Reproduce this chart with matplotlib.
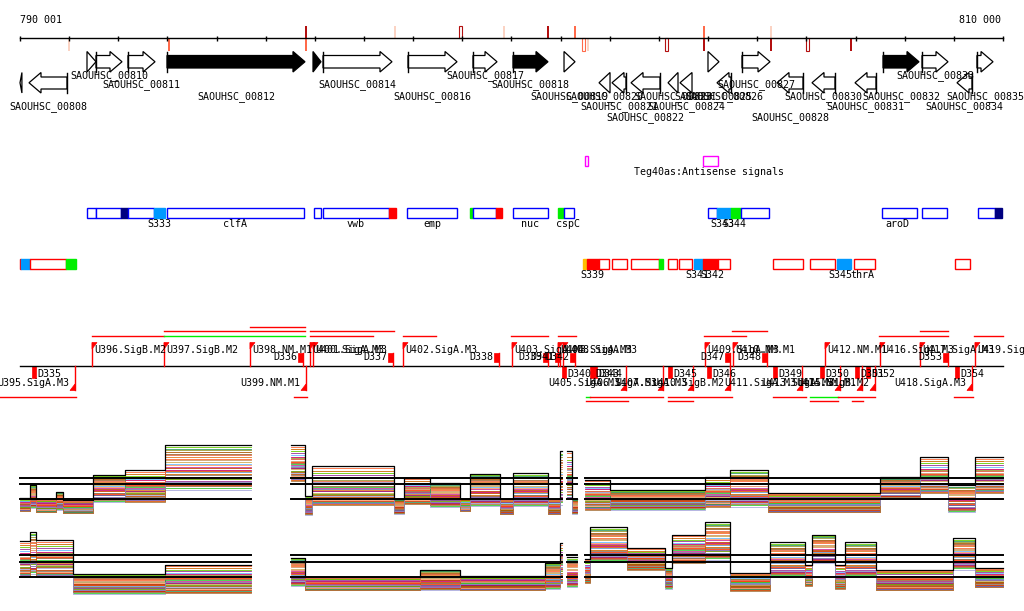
import matplotlib
matplotlib.use('Agg')
import matplotlib.pyplot as plt
from matplotlib.patches import Rectangle, Polygon

# ---------------- data ----------------
BP0, BP1 = 790001, 810000
tick_pos = [790001] + list(range(791000, 810001, 1000))

# signal marks on the coordinate axis: position, side, colour, hollow
mark_pos = [790998, 793032, 795820, 795820, 797630, 798953, 799848, 800743, 801293,
            801456, 801557, 803144, 803917, 803917, 805280, 805280, 806013, 806908]
mark_side = ['d', 'd', 'u', 'd', 'u', 'u', 'u', 'u', 'u',
             'd', 'd', 'd', 'u', 'd', 'u', 'd', 'd', 'd']
mark_col = ['pale', 'salmon', 'dark', 'salmon', 'pale', 'dark', 'pale', 'dark', 'salmon',
            'salmon', 'pale', 'dark', 'salmon', 'dark', 'pale', 'dark', 'dark', 'dark']
mark_hollow = [0, 0, 0, 0, 0, 1, 0, 0, 0, 1, 0, 1, 0, 0, 0, 0, 1, 0]

# genes
gene_start = [791364, 791547, 792198, 792992, 795962, 796166, 797895, 799217, 800031, 801069,
              803998, 804690, 807559, 808352, 809470,
              790001, 790184, 801781, 802045, 802432, 803185, 803429, 804181, 805402, 806114,
              806989, 809064]
gene_end = [791547, 792076, 792748, 795799, 796125, 797569, 798892, 799706, 800743, 801293,
            804222, 805260, 808291, 808881, 809797,
            790040, 790957, 802005, 802330, 803022, 803388, 803673, 804466, 805931, 806582,
            807416, 809369]
gene_strand = [1] * 15 + [-1] * 12
gene_name = ['', 'SAOUHSC_00810', 'SAOUHSC_00811', 'SAOUHSC_00812', '', 'SAOUHSC_00814',
             'SAOUHSC_00816', 'SAOUHSC_00817', 'SAOUHSC_00818', 'SAOUHSC_00819',
             'SAOUHSC_00825', 'SAOUHSC_00827', 'SAOUHSC_00832', 'SAOUHSC_00833', 'SAOUHSC_00835',
             '', 'SAOUHSC_00808', 'SAOUHSC_00820', 'SAOUHSC_00821', 'SAOUHSC_00822',
             'SAOUHSC_00823', 'SAOUHSC_00824', 'SAOUHSC_00826', 'SAOUHSC_00828',
             'SAOUHSC_00830', 'SAOUHSC_00831', 'SAOUHSC_00834']
gene_black = [0, 0, 0, 1, 1, 0, 0, 0, 1, 0, 0, 0, 1, 0, 0,
              0, 0, 0, 0, 0, 0, 0, 0, 0, 0, 0, 0]
gene_row = [0, 0, 1, 2, 0, 1, 2, 0, 1, 2, 2, 1, 2, 0, 2,
            0, 3, 2, 3, 4, 2, 3, 2, 4, 2, 3, 3]

# antisense track
teg_start = [801496, 803896]
teg_end = [801557, 804202]
teg_label = 'Teg40as:Antisense signals'

# blue feature track
blue_start = [791364, 791547, 792056, 792198, 792727, 792992, 795982, 796166, 797508, 797875,
              799156, 799217, 799685, 800031, 800947, 801069, 803998, 804181, 804466, 804670,
              807538, 808352, 809491, 809837]
blue_end = [791547, 792056, 792198, 792727, 792951, 795779, 796125, 797508, 797650, 798892,
            799217, 799685, 799807, 800743, 801069, 801272, 804181, 804466, 804670, 805240,
            808250, 808860, 809837, 809979]
blue_kind = ['o', 'o', 'n', 'o', 's', 'o', 'o', 'o', 'r', 'o', 'g', 'o', 'r', 'o', 'g', 'o',
             'o', 's', 'g', 'o', 'o', 'o', 'o', 'n']
blue_lab = ['S333', 'clfA', 'vwb', 'emp', 'nuc', 'cspC', 'S343', 'S344', 'aroD']
blue_lab_pos = [792839, 794375, 796817, 798383, 800377, 801150, 804283, 804527, 807844]

# red feature track
red_start = [790001, 790021, 790204, 790937, 801455, 801537, 801781, 802045, 802432, 803001,
             803185, 803409, 803714, 803897, 804202, 805321, 806074, 806623, 806969, 809024]
red_end = [790021, 790204, 790937, 791140, 801537, 801781, 801984, 802350, 803001, 803083,
           803368, 803673, 803897, 804202, 804446, 805931, 806582, 806908, 807396, 809329]
red_kind = ['r', 's', 'o', 'g', 'y', 'r', 'o', 'o', 'o', 'g', 'o', 'o', 's', 'r', 'o', 'o',
            'o', 's', 'o', 'o']
red_lab = ['S339', 'S341', 'S342', 'S345', 'thrA']
red_lab_pos = [801638, 803775, 804080, 806683, 807131]

# promoters (U) and terminators (D)
up_U_name = ['U396.SigB.M2', 'U397.SigB.M2', 'U398.NM.M1', 'U400.SigA.M3', 'U401.SigA.M3',
             'U402.SigA.M3', 'U403.SigA.M3', 'U404.SigA.M3', 'U408.SigA.M3', 'U409.SigA.M3',
             'U410.NM.M1', 'U412.NM.M1', 'U416.SigA.M3', 'U417.SigA.M3', 'U419.SigA.M3']
up_U_pos = [791466, 792931, 794680, 795901, 795962, 797793, 800011, 800947, 801048, 803937,
            804507, 806379, 807498, 808312, 809430]
lo_U_name = ['U395.SigA.M3', 'U399.NM.M1', 'U405.SigA.M3', 'U406.SigA.M3', 'U407.SigA.M3',
             'U410.SigB.M2', 'U411.SigA.M3', 'U413.SigA.M3', 'U414.NM.M1', 'U415.SigB.M2',
             'U418.SigA.M3']
lo_U_pos = [791120, 795820, 802330, 803083, 803693, 804446, 805911, 806684, 807131, 807396,
            809369]
up_D_name = ['D336', 'D337', 'D338', 'D339', 'D341', 'D342', 'D347', 'D348', 'D353']
up_D_end = [795759, 797590, 799746, 800743, 800987, 801292, 804446, 805199, 808881]
lo_D_name = ['D335', 'D340', 'D343', 'D344', 'D345', 'D346', 'D349', 'D350', 'D351', 'D352',
             'D354']
lo_D_start = [790245, 801028, 801598, 801659, 803185, 803978, 805321, 806277, 806989, 807213,
              809024]

# transcript extents: start, end, row, colour
ext_start = [791466, 792931, 792931, 794680, 795901, 795901, 797793, 799990, 800947, 803917,
             804487, 807477, 808312, 809410,
             789594, 795576, 801516, 801598, 803185, 805321, 806074, 806643, 809003,
             801516, 803185, 806074, 806928]
ext_end = [792931, 795799, 795799, 795799, 797183, 797610, 798465, 800743, 801313, 804771,
           805199, 808881, 808881, 810000,
           791140, 795840, 801598, 803083, 804487, 805992, 806643, 807396, 809390,
           802371, 803693, 806643, 807152]
ext_row = [2, 2, 1, 0, 2, 1, 2, 2, 2, 2, 1, 2, 1, 2,
           3, 3, 3, 3, 3, 3, 3, 3, 3,
           4, 4, 4, 4]
ext_col = ['r', 'g', 'r', 'r', 'r', 'r', 'r', 'r', 'r', 'r', 'r', 'r', 'r', 'r',
           'r', 'r', 'g', 'r', 'r', 'r', 'g', 'r', 'r',
           'r', 'r', 'r', 'r']

# expression profiles (log2 level): interval start, end, upper and lower envelope
top_start = [790001, 790204, 790327, 790733, 790876, 791486, 792137, 792951,
             795514, 795799, 795942, 797610, 797813, 798342, 798953, 799156, 799767, 800031,
             800743, 800987,
             801130, 801231,
             801496, 802005, 803937, 804446, 805219, 807498, 808312, 808881, 809430]
top_end = [790204, 790327, 790733, 790876, 791486, 792137, 792951, 794701,
           795799, 795942, 797610, 797813, 798342, 798953, 799156, 799767, 800031, 800743,
           800987, 801028,
           801231, 801333,
           802005, 803937, 804446, 805219, 807498, 808312, 808881, 809430, 810000]
top_hi = [7.2, 9.3, 7.0, 8.2, 6.8, 11.0, 11.8, 16.0,
          16.0, 7.5, 12.5, 7.0, 10.5, 9.7, 7.0, 11.2, 7.0, 11.3, 7.0, 15.0,
          15.0, 7.0,
          10.2, 8.5, 10.7, 11.8, 8.0, 10.7, 14.0, 9.3, 14.0]
top_lo = [5.0, 5.5, 4.8, 5.2, 4.6, 6.5, 6.5, 8.5,
          10.0, 4.3, 6.0, 4.5, 6.2, 5.7, 5.0, 5.8, 4.5, 5.8, 4.5, 6.0,
          7.0, 4.5,
          5.2, 5.2, 5.7, 5.7, 4.8, 7.0, 8.0, 4.8, 8.0]
bot_start = [790001, 790204, 790327, 791079, 792951,
             795514, 795799, 798139, 798953, 800682, 800987,
             801130,
             801496, 801598, 802350, 803124, 803266, 803937, 804446, 805260, 805972, 806114,
             806582, 806786, 807416, 808983, 809430]
bot_end = [790204, 790327, 791079, 792951, 794701,
           795799, 798139, 798953, 800682, 800987, 801028,
           801333,
           801598, 802350, 803124, 803266, 803937, 804446, 805260, 805972, 806114, 806582,
           806786, 807416, 808983, 809430, 810000]
bot_hi = [13.0, 14.5, 13.2, 7.5, 9.0,
          10.2, 7.0, 8.2, 7.2, 9.3, 12.7,
          10.3,
          10.0, 15.3, 11.8, 8.5, 14.0, 16.2, 7.7, 12.8, 9.0, 14.0, 9.0, 12.8, 8.2, 13.5, 8.5]
bot_lo = [7.0, 7.5, 7.0, 4.2, 4.3,
          5.5, 4.8, 4.8, 4.8, 5.0, 6.0,
          5.3,
          6.0, 9.5, 8.2, 5.0, 9.3, 9.8, 4.7, 7.0, 5.5, 9.3, 5.0, 7.0, 4.8, 8.2, 5.3]
top_refs = [7.0, 9.5, 10.5]
bot_refs = [7.0, 9.5, 10.67]

# relative position of each sample within the envelope (two orderings)
fracA = [0.95, 0.88, 0.82, 0.77, 0.72, 0.68, 0.64, 0.60, 0.56, 0.53, 0.50, 0.47, 0.44, 0.41,
         0.38, 0.35, 0.32, 0.29, 0.26, 0.23, 0.20, 0.17, 0.14, 0.11, 0.08, 0.05, 0.03, 0.0,
         0.62, 0.40]
fracB = [0.70, 0.35, 0.95, 0.20, 0.58, 0.45, 0.88, 0.10, 0.66, 0.30, 0.80, 0.05, 0.52, 0.40,
         0.74, 0.15, 0.62, 0.25, 0.84, 0.0, 0.48, 0.33, 0.56, 0.12, 0.92, 0.27, 0.42, 0.08,
         0.77, 0.18]
sample_colors = ['#ff6633', '#cc6600', '#66cc00', '#993399', '#66bbff', '#cc0066', '#999933',
                 '#9999cc', '#cc9966', '#ff3300', '#996633', '#33cc33', '#cc3399', '#6699cc',
                 '#dd7722', '#990066', '#ccaa55', '#669900', '#aa5500', '#aaaadd', '#bb4400',
                 '#887766', '#ff9966', '#cc3300', '#339966', '#7755aa', '#dd5500', '#aa7744',
                 '#ee6644', '#8888bb']

# ---------------- drawing ----------------
W, H = 1024, 611
PX0, PX1 = 20, 1003
BPP = (BP1 - BP0) / (PX1 - PX0)
XL = (BP0 - PX0 * BPP, BP0 + (W - PX0) * BPP)

fig = plt.figure(figsize=(W / 100, H / 100), dpi=100)
ax = fig.add_axes([0, 0, 1, 1])
ax.set_xlim(*XL)
ax.set_ylim(H, 0)
ax.axis('off')

MONO = dict(family='DejaVu Sans Mono', fontsize=7.2)


def px(n):
    return n * BPP


# coordinate axis
AY = 38.3
ax.plot([BP0, BP1], [AY, AY], color='black', lw=1)
ax.vlines(tick_pos, AY - 2.8, AY + 2.8, color='black', lw=1)
ax.text(BP0, 20, '790 001', ha='left', va='center', **MONO)
ax.text(BP1 - px(2), 20, '810 000', ha='right', va='center', **MONO)

mcols = {'pale': '#fbd3c3', 'salmon': '#ff6a4a', 'dark': '#b31010'}
for p, sd, c, hol in zip(mark_pos, mark_side, mark_col, mark_hollow):
    y0, y1 = (25.5, AY) if sd == 'u' else (AY, 51.5)
    w = px(3) if hol else px(2)
    ax.add_patch(Rectangle((p - w / 2, y0), w, y1 - y0,
                           facecolor='white' if hol else mcols[c],
                           edgecolor=mcols[c], lw=0.8 if hol else 0))

# genes
row_y = [76, 85, 97, 107, 118]
HEAD = px(12)
for s, e, st, nm, blk, r in zip(gene_start, gene_end, gene_strand, gene_name, gene_black,
                                gene_row):
    if st > 0:
        top, bot, bt, bb = 51.5, 72.0, 55.5, 68.0
    else:
        top, bot, bt, bb = 72.5, 93.0, 77.0, 89.0
    mid = (top + bot) / 2
    L = e - s
    bar = None
    if L <= HEAD:
        if st > 0:
            pts = [(s, top), (e, mid), (s, bot)]
        else:
            pts = [(e, top), (s, mid), (e, bot)]
    else:
        if st > 0:
            hs = e - HEAD
            pts = [(s, bt), (hs, bt), (hs, top), (e, mid), (hs, bot), (hs, bb), (s, bb)]
            bar = s
        else:
            hs = s + HEAD
            pts = [(e, bt), (hs, bt), (hs, top), (s, mid), (hs, bot), (hs, bb), (e, bb)]
            bar = e
    ax.add_patch(Polygon(pts, closed=True, facecolor='black' if blk else 'white',
                         edgecolor='black', lw=0.9))
    if bar is not None:
        ax.plot([bar, bar], [top, bot], color='black', lw=1)
    if nm:
        ax.text((s + e) / 2, row_y[r], nm, ha='center', va='center', **MONO)

# antisense signals
for s, e in zip(teg_start, teg_end):
    ax.add_patch(Rectangle((s, 155.5), e - s, 10, facecolor='white', edgecolor='#ff00ff',
                           lw=1))
ax.text(802493, 172, teg_label, ha='left', va='center', **MONO)

kcols = {'n': '#000080', 's': '#0099ff', 'g': '#00ee00', 'r': '#ff0000', 'y': '#ffc000'}


def boxes(starts, ends, kinds, y, edge):
    for s, e, k in zip(starts, ends, kinds):
        if k == 'o':
            ax.add_patch(Rectangle((s, y), e - s, 10, facecolor='white', edgecolor=edge,
                                   lw=1))
        else:
            ax.add_patch(Rectangle((s, y), e - s, 10, facecolor=kcols[k], edgecolor=kcols[k],
                                   lw=1))


boxes(blue_start, blue_end, blue_kind, 207.5, '#0000ff')
for t, p in zip(blue_lab, blue_lab_pos):
    ax.text(p, 224, t, ha='center', va='center', **MONO)
boxes(red_start, red_end, red_kind, 258.5, '#ff0000')
for t, p in zip(red_lab, red_lab_pos):
    ax.text(p, 275, t, ha='center', va='center', **MONO)

# promoter / terminator track
PY = 366
RED = '#ff0000'
ax.plot([BP0, BP1], [PY, PY], color='black', lw=1)
ext_y = [327, 331, 336, 397, 401]
for s, e, r, c in zip(ext_start, ext_end, ext_row, ext_col):
    ax.plot([s, e], [ext_y[r], ext_y[r]], color=RED if c == 'r' else '#00ee00', lw=1)
for nm, p in zip(up_U_name, up_U_pos):
    ax.plot([p, p], [343, PY], color=RED, lw=1)
    ax.add_patch(Polygon([(p, 342.5), (p + px(5), 342.5), (p, 349)], facecolor=RED,
                         edgecolor=RED, lw=0.5))
    ax.text(p + px(2), 350, nm, ha='left', va='center', **MONO)
for nm, p in zip(lo_U_name, lo_U_pos):
    ax.plot([p, p], [PY, 390], color=RED, lw=1)
    ax.add_patch(Polygon([(p, 390.5), (p - px(5), 390.5), (p, 384)], facecolor=RED,
                         edgecolor=RED, lw=0.5))
    ax.text(p - px(6), 383, nm, ha='right', va='center', **MONO)
for nm, e in zip(up_D_name, up_D_end):
    ax.add_patch(Rectangle((e - px(5), 353), px(5), 9, facecolor=RED, edgecolor=RED, lw=0.5))
    ax.plot([e, e], [353, PY], color=RED, lw=1)
    ax.text(e - px(6), 357, nm, ha='right', va='center', **MONO)
for nm, s in zip(lo_D_name, lo_D_start):
    ax.add_patch(Rectangle((s, PY), px(4), 12, facecolor=RED, edgecolor=RED, lw=0.5))
    ax.text(s + px(5), 374, nm, ha='left', va='center', **MONO)


# expression panels
def runs(starts, ends):
    out, cur = [], [0]
    for i in range(1, len(starts)):
        if starts[i] == ends[i - 1]:
            cur.append(i)
        else:
            out.append(cur)
            cur = [i]
    out.append(cur)
    return out


def panel(bottom_px, starts, ends, hi, lo, refs):
    a = fig.add_axes([0, (H - bottom_px) / H, 1, 90 / H])
    a.set_xlim(*XL)
    a.set_ylim(2.5, 17.5)
    a.axis('off')
    a.patch.set_alpha(0)
    for run in runs(starts, ends):
        x0, x1 = starts[run[0]], ends[run[-1]]
        for rv in refs:
            a.plot([x0, x1], [rv, rv], color='black', lw=1.4, zorder=3)
        for k, col in enumerate(sample_colors):
            xs, ys = [], []
            for i in run:
                f = fracA[k] if i % 2 == 0 else fracB[k]
                v = lo[i] + (hi[i] - lo[i]) * f
                xs += [starts[i], ends[i]]
                ys += [v, v]
            a.plot(xs, ys, color=col, lw=0.6, zorder=2)
        xs, ys = [], []
        for i in run:
            xs += [starts[i], ends[i]]
            ys += [hi[i], hi[i]]
        a.plot(xs, ys, color='black', lw=0.9, zorder=4)
    return a


panel(526, top_start, top_end, top_hi, top_lo, top_refs)
panel(604, bot_start, bot_end, bot_hi, bot_lo, bot_refs)

fig.savefig('out.png', dpi=100)
